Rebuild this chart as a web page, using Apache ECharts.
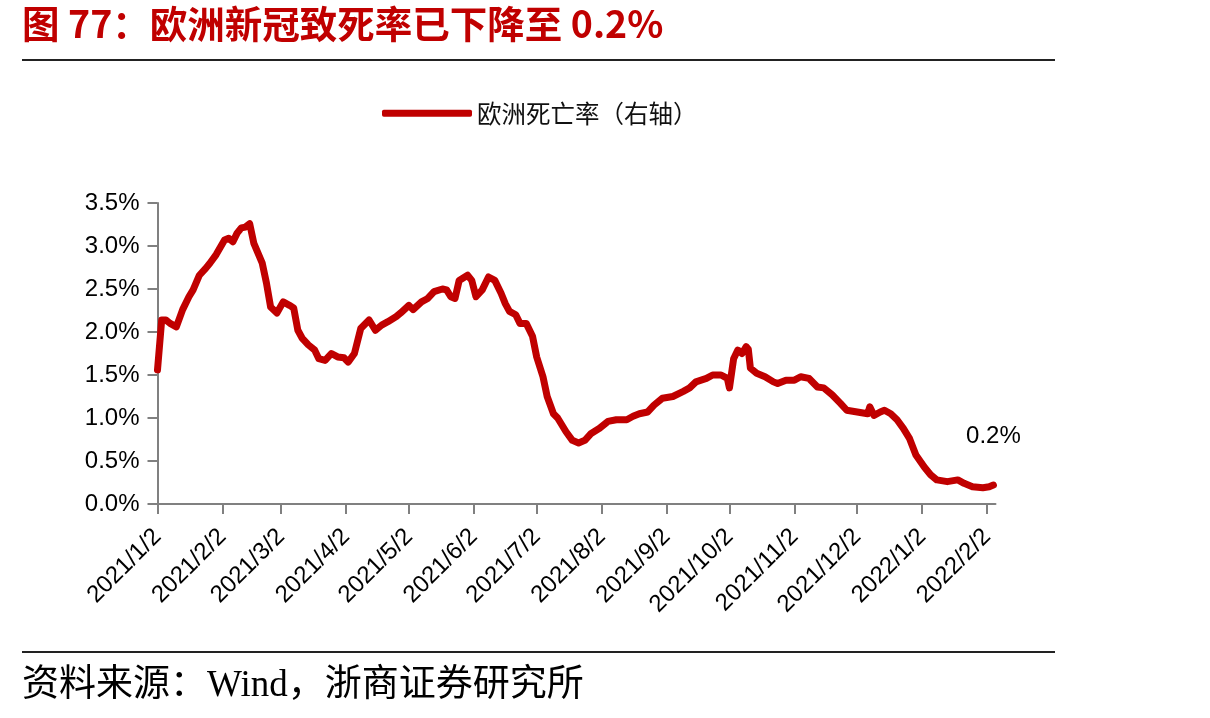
<!DOCTYPE html>
<html><head><meta charset="utf-8">
<script src="https://cdn.jsdelivr.net/npm/echarts@6/dist/echarts.min.js"></script>
<style>html,body{margin:0;padding:0;background:#fff}#c{width:1210px;height:718px}</style>
</head><body><div id="c"></div>
<script>
const titleText = '图 77：欧洲新冠致死率已下降至 0.2%';
const seriesName = '欧洲死亡率（右轴）';
const sourceText = '资料来源：Wind，浙商证券研究所';
const annotationText = '0.2%';
const axisStart = '2021/1/2';
const axisEnd = '2022/2/6';
const tickLabels = ['2021/1/2','2021/2/2','2021/3/2','2021/4/2','2021/5/2','2021/6/2','2021/7/2',
  '2021/8/2','2021/9/2','2021/10/2','2021/11/2','2021/12/2','2022/1/2','2022/2/2'];

const dates = [
  '2021/1/2','2021/1/4','2021/1/6','2021/1/8','2021/1/11','2021/1/14','2021/1/17','2021/1/19','2021/1/22','2021/1/25','2021/1/27','2021/1/30',
  '2021/2/3','2021/2/5','2021/2/7','2021/2/9','2021/2/11','2021/2/13','2021/2/15','2021/2/17','2021/2/21','2021/2/23','2021/2/25','2021/2/28',
  '2021/3/3','2021/3/6','2021/3/8','2021/3/10','2021/3/12','2021/3/15','2021/3/18','2021/3/20','2021/3/23','2021/3/26','2021/3/29',
  '2021/4/1','2021/4/3','2021/4/6','2021/4/9','2021/4/13','2021/4/16','2021/4/19','2021/4/22','2021/4/26','2021/4/28',
  '2021/5/2','2021/5/4','2021/5/8','2021/5/11','2021/5/14','2021/5/18','2021/5/20','2021/5/22','2021/5/24','2021/5/26','2021/5/30',
  '2021/6/1','2021/6/3','2021/6/6','2021/6/9','2021/6/12','2021/6/15','2021/6/17','2021/6/19','2021/6/22','2021/6/24','2021/6/27','2021/6/30',
  '2021/7/2','2021/7/5','2021/7/7','2021/7/10','2021/7/12','2021/7/16','2021/7/19','2021/7/22','2021/7/25','2021/7/28',
  '2021/8/1','2021/8/5','2021/8/9','2021/8/14','2021/8/17','2021/8/20','2021/8/24','2021/8/27','2021/8/31',
  '2021/9/5','2021/9/10','2021/9/13','2021/9/16','2021/9/21','2021/9/24','2021/9/28',
  '2021/10/1','2021/10/2','2021/10/4','2021/10/6','2021/10/8','2021/10/10','2021/10/11','2021/10/12','2021/10/15','2021/10/19','2021/10/23','2021/10/25','2021/10/29',
  '2021/11/2','2021/11/5','2021/11/9','2021/11/13','2021/11/16','2021/11/20','2021/11/24','2021/11/27',
  '2021/12/2','2021/12/7','2021/12/8','2021/12/10','2021/12/13','2021/12/15','2021/12/18','2021/12/21','2021/12/24','2021/12/27','2021/12/30',
  '2022/1/3','2022/1/6','2022/1/9','2022/1/14','2022/1/19','2022/1/22','2022/1/26','2022/1/31',
  '2022/2/3','2022/2/5'
];
const values = [
  1.56,2.14,2.14,2.10,2.06,2.26,2.41,2.49,2.66,2.74,2.80,2.90,
  3.07,3.09,3.05,3.15,3.21,3.22,3.26,3.03,2.80,2.57,2.29,2.22,
  2.35,2.31,2.28,2.02,1.93,1.85,1.79,1.69,1.67,1.75,1.71,
  1.70,1.65,1.75,2.04,2.14,2.02,2.08,2.12,2.18,2.22,
  2.31,2.26,2.35,2.39,2.47,2.50,2.49,2.41,2.39,2.60,2.66,
  2.60,2.41,2.49,2.64,2.60,2.45,2.33,2.24,2.20,2.10,2.10,1.95,
  1.71,1.48,1.25,1.05,1.00,0.84,0.74,0.71,0.74,0.82,
  0.88,0.96,0.98,0.98,1.02,1.05,1.07,1.15,1.23,
  1.25,1.31,1.35,1.42,1.46,1.50,1.50,
  1.46,1.35,1.69,1.79,1.75,1.83,1.80,1.58,1.52,1.48,1.42,1.40,1.44,
  1.44,1.48,1.46,1.36,1.35,1.27,1.17,1.09,
  1.07,1.05,1.13,1.03,1.07,1.09,1.05,0.98,0.88,0.76,0.57,
  0.43,0.34,0.28,0.26,0.28,0.24,0.20,0.19,
  0.20,0.22
];

// daily category axis from axisStart to axisEnd
const categories = [];
(function () {
  const p = s => { const a = s.split('/').map(Number); return new Date(a[0], a[1] - 1, a[2]); };
  const end = p(axisEnd);
  for (let d = p(axisStart); d <= end; d.setDate(d.getDate() + 1)) {
    categories.push(d.getFullYear() + '/' + (d.getMonth() + 1) + '/' + d.getDate());
  }
})();
const tickSet = new Set(tickLabels);
const RED = '#C00000';
const AXIS = '#808080';

const chart = echarts.init(document.getElementById('c'), null, { renderer: 'canvas' });
const lastIdx = dates.length - 1;
chart.setOption({
  animation: false,
  backgroundColor: '#fff',
  grid: { left: 157.5, right: 214.5, top: 203, bottom: 214, containLabel: false },
  legend: {
    data: [seriesName], left: 377, top: 96, itemWidth: 90, itemHeight: 7, icon: 'roundRect', itemGap: 0,
    textStyle: { fontSize: 24.5, color: '#111', fontFamily: '"Noto Sans CJK SC"' }
  },
  xAxis: {
    type: 'category', data: categories, boundaryGap: false,
    axisLine: { lineStyle: { color: AXIS, width: 2 } },
    axisTick: { interval: (i, v) => tickSet.has(v), length: 10, lineStyle: { color: AXIS, width: 2 } },
    axisLabel: { interval: (i, v) => tickSet.has(v), rotate: 45, margin: 29, fontSize: 24, color: '#000',
      fontFamily: '"Liberation Sans", Arial' },
    splitLine: { show: false }
  },
  yAxis: {
    type: 'value', min: 0, max: 3.5, interval: 0.5,
    axisLine: { show: true, lineStyle: { color: AXIS, width: 2 } },
    axisTick: { show: true, length: 10, lineStyle: { color: AXIS, width: 2 } },
    axisLabel: { formatter: v => v.toFixed(1) + '%', fontSize: 24, color: '#000', margin: 18,
      fontFamily: '"Liberation Sans", Arial' },
    splitLine: { show: false }
  },
  series: [{
    name: seriesName, type: 'line', symbol: 'none', color: RED,
    lineStyle: { width: 7, color: RED, cap: 'round', join: 'round' },
    data: dates.map((d, i) => [d, values[i]]),
    markPoint: {
      symbol: 'circle', symbolSize: 0,
      data: [{ coord: [dates[lastIdx], values[lastIdx]] }],
      label: { show: true, formatter: annotationText, position: 'top', distance: 37, fontSize: 24, color: '#000',
        fontFamily: '"Liberation Sans", Arial' }
    }
  }],
  graphic: [
    { type: 'text', left: 22, top: 5, style: { text: titleText, font: 'bold 37.5px "Noto Sans CJK SC"', fill: RED } },
    { type: 'line', shape: { x1: 22, y1: 60, x2: 1055, y2: 60 }, style: { stroke: '#222', lineWidth: 2 } },
    { type: 'line', shape: { x1: 22, y1: 652, x2: 1055, y2: 652 }, style: { stroke: '#222', lineWidth: 2 } },
    { type: 'text', left: 22, top: 668, style: { text: sourceText, font: '37px "Liberation Serif", "Noto Sans CJK SC"', fill: '#000' } }
  ]
});
</script></body></html>
